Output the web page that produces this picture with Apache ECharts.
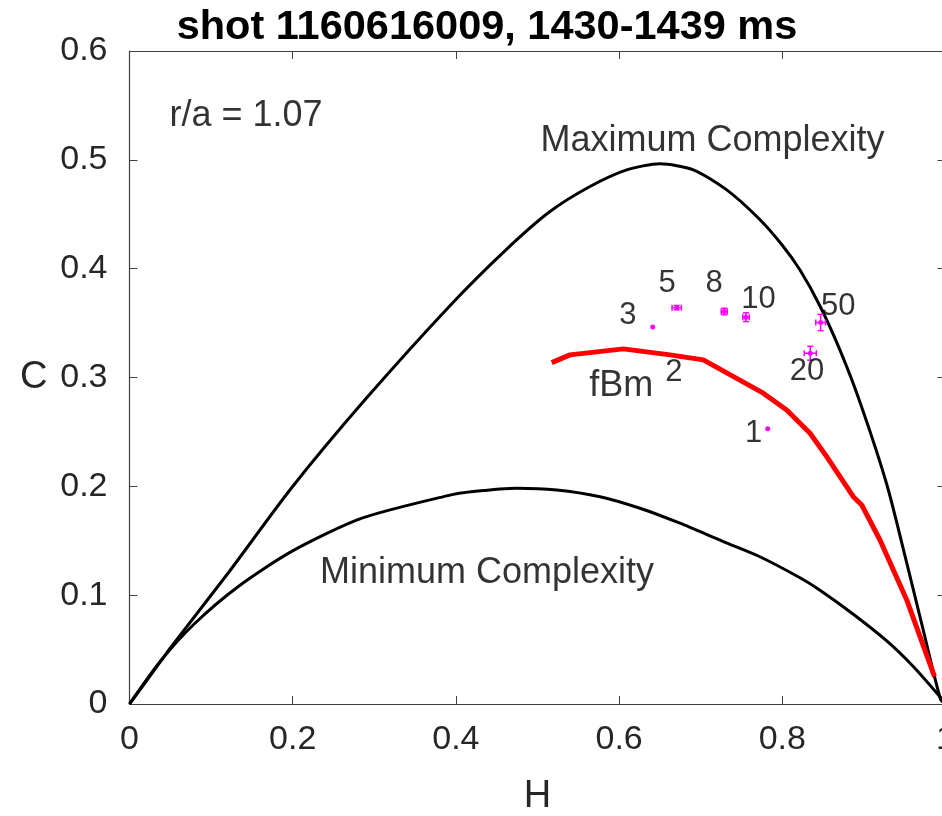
<!DOCTYPE html>
<html><head><meta charset="utf-8">
<script src="https://cdn.jsdelivr.net/npm/echarts@6/dist/echarts.min.js"></script>
<style>html,body{margin:0;padding:0;overflow:hidden;background:#fff}#c{width:942px;height:816px}</style>
</head><body><div id="c"></div>
<script>
// Maximum complexity curve
const maxH = [0, 0.039, 0.0512, 0.1207, 0.198, 0.288, 0.3927, 0.4623, 0.5153, 0.5643, 0.6093, 0.650, 0.691, 0.7319, 0.7706, 0.80, 0.8217, 0.846, 0.8707, 0.8952, 0.928, 0.9525, 0.9728, 0.994, 1];
const maxC = [0, 0.040, 0.0527, 0.1201, 0.198, 0.279, 0.366, 0.418, 0.4525, 0.4755, 0.4908, 0.4963, 0.4908, 0.4724, 0.4465, 0.4215, 0.3987, 0.3659, 0.3251, 0.2773, 0.2019, 0.1296, 0.0677, 0.0041, 0];
// Minimum complexity curve
const minH = [0, 0.039, 0.0799, 0.133, 0.1983, 0.284, 0.3903, 0.4213, 0.4745, 0.5235, 0.5766, 0.6256, 0.6746, 0.7277, 0.7706, 0.8217, 0.8462, 0.887, 0.928, 0.9605, 0.994, 1];
const minC = [0, 0.0404, 0.074, 0.1078, 0.140, 0.1705, 0.1915, 0.1952, 0.1983, 0.1967, 0.1905, 0.1799, 0.1661, 0.1492, 0.136, 0.116, 0.1045, 0.0825, 0.058, 0.0345, 0.006, 0];
// fBm curve
const fbmH = [0.5174, 0.5398, 0.6051, 0.6624, 0.7032, 0.7767, 0.8054, 0.834, 0.8544, 0.887, 0.8973, 0.9197, 0.9525, 0.9865];
const fbmC = [0.3137, 0.3208, 0.3263, 0.3208, 0.3162, 0.2856, 0.2702, 0.2488, 0.2273, 0.1905, 0.1829, 0.1507, 0.0956, 0.0251];
// Measured points
const ptNames = ['1', '2', '3', '5', '8', '10', '20', '50'];
const ptH = [0.7821, 0.676, 0.6412, 0.6706, 0.7289, 0.7555, 0.8343, 0.847];
const ptC = [0.253, 0.319, 0.3465, 0.3642, 0.3606, 0.3554, 0.3223, 0.3505];
const ptErrH = [0, 0, 0, 0.0057, 0.0037, 0.004, 0.0074, 0.006];
const ptErrC = [0, 0, 0, 0.002, 0.003, 0.004, 0.0064, 0.0075];
// Label anchors (data coordinates)
const ptLabelH = [0.765, 0.667, 0.6109, 0.6587, 0.7163, 0.7708, 0.8303, 0.8686];
const ptLabelC = [0.2482, 0.3047, 0.3566, 0.386, 0.386, 0.3713, 0.3054, 0.3652];
const noteTexts = ['Maximum Complexity', 'Minimum Complexity', 'r/a = 1.07', 'fBm'];
const noteH = [0.7145, 0.4381, 0.1428, 0.6027];
const noteC = [0.5175, 0.1204, 0.5404, 0.2917];
const titleText = 'shot 1160616009, 1430-1439 ms';

const zip = (a, b) => a.map((v, i) => [v, b[i]]);
const axisCol = '#404040';
const font = 'Liberation Sans, Arial, sans-serif';

const chart = echarts.init(document.getElementById('c'));
chart.setOption({
  animation: false,
  title: {text: titleText, left: 482, top: 2, textAlign: 'center',
    textStyle: {fontFamily: font, fontWeight: 'bold', fontSize: 41.5, color: '#000'}},
  grid: {left: 129.5, top: 51, width: 816, height: 653, containLabel: false, outerBoundsMode: 'none'},
  xAxis: [
    {type: 'value', min: 0, max: 1, interval: 0.2, name: 'H', nameLocation: 'middle', nameGap: 74,
     nameTextStyle: {fontFamily: font, fontSize: 38, color: '#262626'},
     axisLine: {lineStyle: {color: axisCol, width: 1.2}},
     axisTick: {inside: true, length: 8, lineStyle: {color: axisCol}},
     axisLabel: {fontFamily: font, fontSize: 34, color: '#262626', margin: 19},
     splitLine: {show: false}},
    {type: 'value', min: 0, max: 1, interval: 0.2, position: 'top',
     axisLine: {onZero: false, lineStyle: {color: axisCol, width: 1.2}},
     axisTick: {inside: true, length: 8, lineStyle: {color: axisCol}},
     axisLabel: {show: false}, splitLine: {show: false}}
  ],
  yAxis: [
    {type: 'value', min: 0, max: 0.6, interval: 0.1, name: 'C', nameLocation: 'middle', nameGap: 82, nameRotate: 0,
     nameTextStyle: {fontFamily: font, fontSize: 38, color: '#262626'},
     axisLine: {lineStyle: {color: axisCol, width: 1.2}},
     axisTick: {inside: true, length: 8, lineStyle: {color: axisCol}},
     axisLabel: {fontFamily: font, fontSize: 34, color: '#262626', margin: 22},
     splitLine: {show: false}},
    {type: 'value', min: 0, max: 0.6, interval: 0.1, position: 'right',
     axisLine: {onZero: false, lineStyle: {color: axisCol, width: 1.2}},
     axisTick: {inside: true, length: 8, lineStyle: {color: axisCol}},
     axisLabel: {show: false}, splitLine: {show: false}}
  ],
  series: [
    {type: 'line', data: zip(maxH, maxC), smooth: 0.25, showSymbol: false, z: 2,
     lineStyle: {color: '#000', width: 3}},
    {type: 'line', data: zip(minH, minC), smooth: 0.25, showSymbol: false, z: 2,
     lineStyle: {color: '#000', width: 3}},
    {type: 'custom', z: 3,
     data: ptH.map((h, i) => [h, ptC[i], ptErrH[i], ptErrC[i]]),
     renderItem: function (params, api) {
       const h = api.value(0), c = api.value(1), eh = api.value(2), ec = api.value(3);
       const p = api.coord([h, c]);
       const l = api.coord([h - eh, c]), r = api.coord([h + eh, c]);
       const t = api.coord([h, c + ec]), b = api.coord([h, c - ec]);
       const st = {stroke: '#ff00ff', lineWidth: 1.5};
       const cap = 3;
       const children = [];
       if (eh > 0) {
         children.push({type: 'line', shape: {x1: l[0], y1: l[1], x2: r[0], y2: r[1]}, style: st});
         children.push({type: 'line', shape: {x1: l[0], y1: l[1] - cap, x2: l[0], y2: l[1] + cap}, style: st});
         children.push({type: 'line', shape: {x1: r[0], y1: r[1] - cap, x2: r[0], y2: r[1] + cap}, style: st});
       }
       if (ec > 0) {
         children.push({type: 'line', shape: {x1: t[0], y1: t[1], x2: b[0], y2: b[1]}, style: st});
         children.push({type: 'line', shape: {x1: t[0] - cap, y1: t[1], x2: t[0] + cap, y2: t[1]}, style: st});
         children.push({type: 'line', shape: {x1: b[0] - cap, y1: b[1], x2: b[0] + cap, y2: b[1]}, style: st});
       }
       children.push({type: 'circle', shape: {cx: p[0], cy: p[1], r: 2.5}, style: {fill: '#ff00ff'}});
       return {type: 'group', children: children};
     }},
    {type: 'line', data: zip(fbmH, fbmC), showSymbol: false, z: 4,
     lineStyle: {color: '#ff0000', width: 5}},
    {type: 'scatter', z: 5, symbolSize: 1, itemStyle: {color: 'rgba(0,0,0,0)'},
     data: ptNames.map((n, i) => ({name: n, value: [ptLabelH[i], ptLabelC[i]]})),
     label: {show: true, position: 'inside', formatter: '{b}', fontFamily: font, fontSize: 31, color: '#000', textBorderWidth: 0}},
    {type: 'scatter', z: 5, symbolSize: 1, itemStyle: {color: 'rgba(0,0,0,0)'},
     data: noteTexts.map((n, i) => ({name: n, value: [noteH[i], noteC[i]]})),
     label: {show: true, position: 'inside', formatter: '{b}', fontFamily: font, fontSize: 36, color: '#000', textBorderWidth: 0}}
  ]
});
</script></body></html>
